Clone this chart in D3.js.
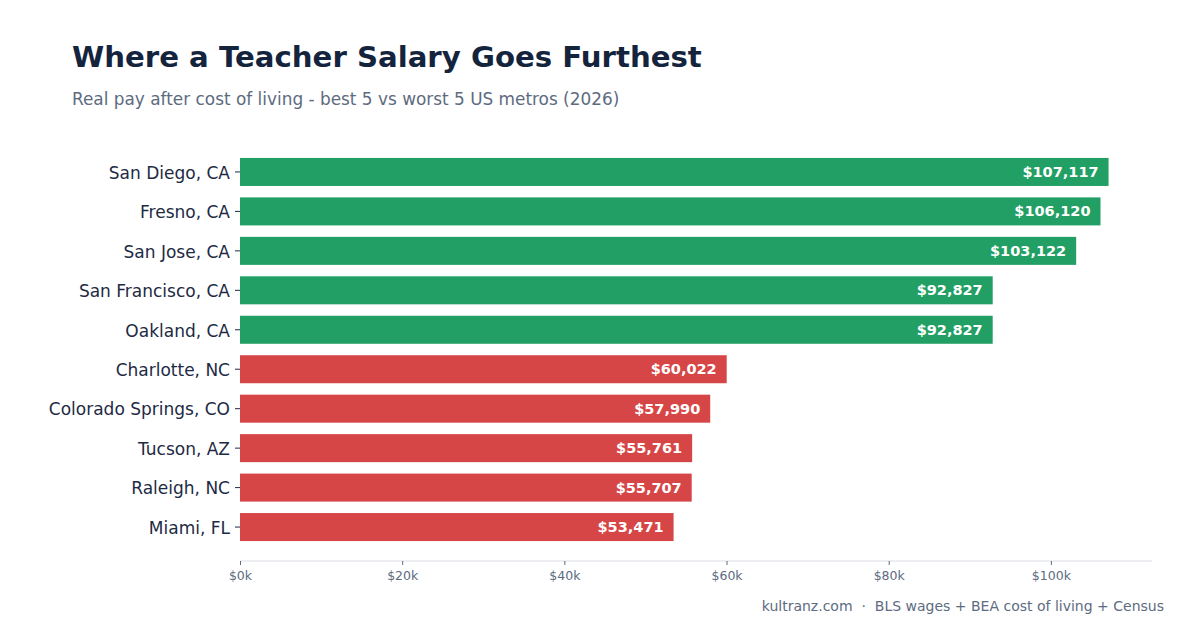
<!DOCTYPE html>
<html>
<head>
<meta charset="utf-8">
<script src="https://cdn.jsdelivr.net/npm/d3@7"></script>
<style>
  body { margin: 0; background: #ffffff; font-family: "DejaVu Sans", sans-serif; }
  svg { display: block; }
</style>
</head>
<body>
<script>
// Chart data
var metros = ["San Diego, CA", "Fresno, CA", "San Jose, CA", "San Francisco, CA", "Oakland, CA",
  "Charlotte, NC", "Colorado Springs, CO", "Tucson, AZ", "Raleigh, NC", "Miami, FL"];
var realPay = [107117, 106120, 103122, 92827, 92827, 60022, 57990, 55761, 55707, 53471];
var group = ["best", "best", "best", "best", "best", "worst", "worst", "worst", "worst", "worst"];
var xTicks = [0, 20000, 40000, 60000, 80000, 100000];

var svgWidth = 1200;
var svgHeight = 630;

var svg = d3.select("body")
  .append("svg")
  .attr("width", svgWidth)
  .attr("height", svgHeight);

// Title + subtitle
svg.append("text")
  .attr("x", 72)
  .attr("y", 67)
  .style("font-size", "29.2px")
  .style("font-weight", "bold")
  .attr("fill", "#15243d")
  .text("Where a Teacher Salary Goes Furthest");

svg.append("text")
  .attr("x", 72)
  .attr("y", 105)
  .style("font-size", "16.9px")
  .attr("fill", "#5d6b80")
  .text("Real pay after cost of living - best 5 vs worst 5 US metros (2026)");

var data = metros.map(function(m, i) {
  return { metro: m, value: realPay[i], group: group[i] };
});

var x = d3.scaleLinear()
  .domain([0, d3.max(realPay) * 1.05])
  .range([240, 1152]);

var y = d3.scaleBand()
  .domain(metros)
  .range([146.5, 552.5])
  .padding(0.29);

var colors = { best: "#229f64", worst: "#d64646" };

// bars
svg.selectAll("rect.bar")
  .data(data)
  .enter()
  .append("rect")
  .attr("class", "bar")
  .attr("x", x(0))
  .attr("y", d => y(d.metro))
  .attr("width", d => x(d.value) - x(0))
  .attr("height", y.bandwidth())
  .attr("fill", d => colors[d.group]);

// value labels inside bars
var fmt = d3.format("$,");
svg.selectAll("text.val")
  .data(data)
  .enter()
  .append("text")
  .attr("class", "val")
  .attr("x", d => x(d.value) - 10)
  .attr("y", d => y(d.metro) + y.bandwidth() / 2)
  .attr("dy", "0.35em")
  .attr("text-anchor", "end")
  .style("font-size", "14.5px")
  .style("font-weight", "bold")
  .attr("fill", "#ffffff")
  .text(d => fmt(d.value));

// y axis
var yAxis = svg.append("g")
  .attr("transform", "translate(240,0)")
  .call(d3.axisLeft(y).tickSize(5).tickPadding(5));
yAxis.select(".domain").remove();
yAxis.selectAll(".tick line").attr("stroke", "#1e2a44");
yAxis.selectAll(".tick text")
  .style("font-size", "17px")
  .style("font-family", "DejaVu Sans, sans-serif")
  .attr("dy", "0.4em")
  .attr("fill", "#1e2a44");

// x axis
var xAxis = svg.append("g")
  .attr("transform", "translate(0,561)")
  .call(d3.axisBottom(x).tickValues(xTicks).tickSize(4).tickPadding(6)
    .tickFormat(d => "$" + d / 1000 + "k"));
xAxis.select(".domain").attr("stroke", "#d9dde4").attr("d", "M240,0H1152");
xAxis.selectAll(".tick line").attr("stroke", "#5d6b80");
xAxis.selectAll(".tick text")
  .style("font-size", "12.5px")
  .style("font-family", "DejaVu Sans, sans-serif")
  .attr("fill", "#5d6b80");

// footer
svg.append("text")
  .attr("x", 1164)
  .attr("y", 611)
  .attr("text-anchor", "end")
  .style("font-size", "14px")
  .style("white-space", "pre")
  .attr("fill", "#5d6b80")
  .text("kultranz.com  \u00b7  BLS wages + BEA cost of living + Census");
</script>
</body>
</html>
